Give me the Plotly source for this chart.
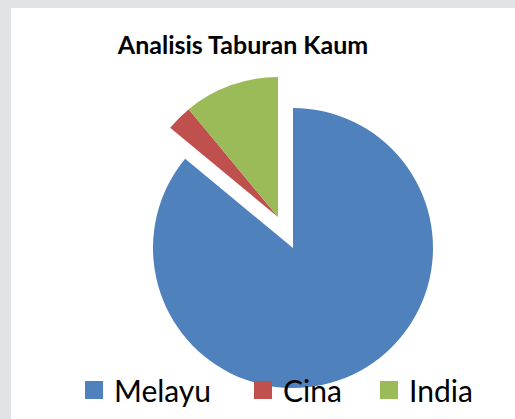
import plotly.graph_objects as go

labels = ["Melayu", "Cina", "India"]
values = [86, 3, 11]
colors = ["#4F81BD", "#C0504D", "#9BBB59"]
title_text = "Analisis Taburan Kaum"

W, H = 515, 419
TRANSPARENT = "rgba(0,0,0,0)"

def px_domain(cx, cy, r):
    return dict(x=[(cx - r) / W, (cx + r) / W], y=[(H - cy - r) / H, (H - cy + r) / H])

fig = go.Figure()

# Main (non-exploded) slice: Melayu
fig.add_trace(go.Pie(
    labels=labels, values=values, sort=False, direction="clockwise", rotation=0,
    marker=dict(colors=[colors[0], TRANSPARENT, TRANSPARENT], line=dict(width=0)),
    textinfo="none", showlegend=False, domain=px_domain(293, 248, 140),
))
# Exploded slices: Cina and India (pulled out together)
fig.add_trace(go.Pie(
    labels=labels, values=values, sort=False, direction="clockwise", rotation=0,
    marker=dict(colors=[TRANSPARENT, colors[1], colors[2]], line=dict(width=0)),
    textinfo="none", showlegend=False, domain=px_domain(278, 217, 140),
))

legend_names = ["legend", "legend2", "legend3"]
legend_x = [74, 243, 369]
for i, (lab, col) in enumerate(zip(labels, colors)):
    fig.add_trace(go.Scatter(
        x=[None], y=[None], mode="markers", name=lab,
        marker=dict(symbol="square", size=16, color=col, line=dict(color=col, width=2)),
        legend=legend_names[i], showlegend=True,
    ))

legend_common = dict(orientation="h", xanchor="left", yanchor="middle",
                     y=(H - 390) / H, bgcolor="rgba(0,0,0,0)",
                     font=dict(family="Lato", size=30, color="#000000"))
layout_legends = {}
for name, lx in zip(legend_names, legend_x):
    layout_legends[name] = dict(legend_common, x=lx / W)

fig.update_layout(
    width=W, height=H, autosize=False,
    margin=dict(l=0, r=0, t=0, b=0),
    paper_bgcolor="#E2E3E5", plot_bgcolor="rgba(0,0,0,0)",
    xaxis=dict(visible=False), yaxis=dict(visible=False),
    title=dict(text="<b>" + title_text + "</b>", x=243 / W, xanchor="center",
               xref="paper", yref="container", y=1 - 45 / H, yanchor="middle",
               font=dict(family="Lato", size=25, color="#000000")),
    shapes=[dict(type="rect", xref="paper", yref="paper", x0=11 / W, x1=1.01,
                 y0=-0.01, y1=1 - 8 / H, fillcolor="#FFFFFF", line=dict(width=0),
                 layer="below")],
    **layout_legends,
)

fig.write_html(
    "out.html",
    config={"displayModeBar": False},
    post_script="document.body.style.margin='0';document.body.style.padding='0';"
                "document.body.style.overflow='hidden';",
)
